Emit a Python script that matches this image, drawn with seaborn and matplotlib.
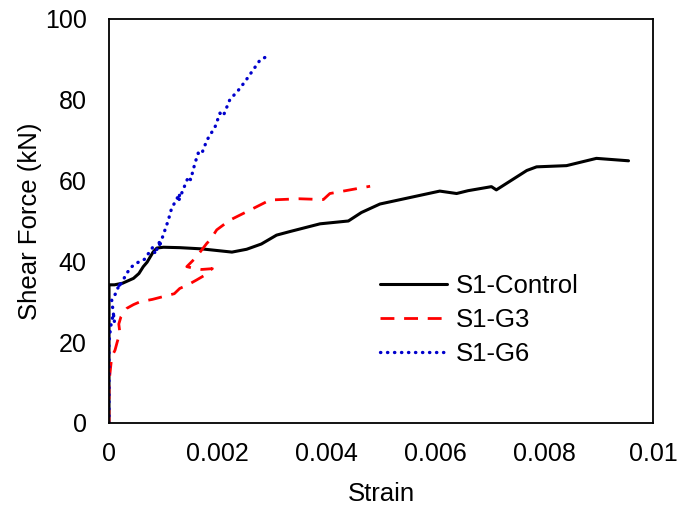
import pandas as pd
import numpy as np
import matplotlib
matplotlib.use('Agg')
import matplotlib.pyplot as plt
import seaborn as sns

# S1-Control (strain, kN)
control_strain = [0, 0, 0.0001, 0.00025, 0.00045, 0.00055, 0.00063, 0.0007, 0.00081, 0.00088,
                  0.001, 0.0013, 0.0017, 0.00226, 0.00253, 0.0028, 0.00308, 0.00333, 0.00388,
                  0.0044, 0.00464, 0.00498, 0.00608, 0.00639, 0.0066, 0.00703, 0.00712,
                  0.00768, 0.00786, 0.00841, 0.00896, 0.00955]
control_force = [0, 34.2, 34.2, 34.6, 35.8, 37.0, 38.7, 39.8, 42.3, 43.3,
                 43.5, 43.4, 43.1, 42.3, 43.0, 44.3, 46.5, 47.4, 49.3,
                 50.0, 52.1, 54.2, 57.4, 56.8, 57.5, 58.5, 57.7,
                 62.5, 63.4, 63.7, 65.5, 64.9]

# S1-G3
g3_strain = [0, 0, 0.00005, 0.00011, 0.00015, 0.0002, 0.00018, 0.00022, 0.00033, 0.00045,
             0.00057, 0.0008, 0.001, 0.0012, 0.0013, 0.00145, 0.00161, 0.00175, 0.00186,
             0.0019, 0.0017, 0.00155, 0.00143, 0.0016, 0.0018, 0.00186, 0.00198, 0.00222,
             0.00271, 0.00296, 0.0035, 0.00394, 0.00406, 0.0048]
g3_force = [0, 10, 16.4, 18, 20, 22.3, 24.5, 26.3, 28.4, 29.3,
            30.0, 30.6, 31.3, 32.0, 33.3, 34.2, 35.4, 36.5, 37.9,
            38.2, 38.0, 38.3, 38.7, 41, 44.5, 45.3, 47.8, 50.2,
            53.5, 55.2, 55.5, 55.3, 56.8, 58.6]

# S1-G6
g6_strain = [0, 0, 0.00003, 0.00008, 0.0001, 0.00005, 0.00012, 0.0002, 0.00018, 0.00033,
             0.0004, 0.00051, 0.00065, 0.00081, 0.00085, 0.00094, 0.00092, 0.00106, 0.00109,
             0.00115, 0.0013, 0.00128, 0.00146, 0.0015, 0.00158, 0.00164, 0.0017, 0.0018,
             0.00195, 0.00204, 0.0021, 0.00222, 0.00238, 0.0025, 0.00265, 0.00278, 0.00287]
g6_force = [0, 20, 23.8, 27.1, 25, 30.4, 32, 34.6, 33.5, 37.1,
            38.5, 39.6, 40.5, 43.6, 41.8, 45.3, 43.5, 49, 50.2,
            53.1, 56.8, 55, 61, 60.2, 64.3, 66.8, 66.5, 70,
            73.3, 76.7, 76, 80, 82.4, 84.5, 87.4, 89.9, 90.5]

sns.set_style('white')
plt.rcParams['font.family'] = ['Liberation Sans', 'DejaVu Sans']
plt.rcParams['text.color'] = 'black'
plt.rcParams['axes.labelcolor'] = 'black'

fig = plt.figure(figsize=(6.8, 5.05), dpi=100)
ax = fig.add_axes([0.1603, 0.1624, 0.80, 0.80])

sns.lineplot(x=control_strain, y=control_force, sort=False, estimator=None, ax=ax,
             color='black', linewidth=2.2, label='S1-Control')
sns.lineplot(x=g3_strain, y=g3_force, sort=False, estimator=None, ax=ax,
             color='#FF0000', linewidth=2.0, linestyle=(0, (5, 3.5)), label='S1-G3')
sns.lineplot(x=g6_strain, y=g6_force, sort=False, estimator=None, ax=ax,
             color='#0000CC', linewidth=2.4, linestyle=(0, (0.1, 2.0)),
             dash_capstyle='round', label='S1-G6')

ax.set_xlim(0, 0.01)
ax.set_ylim(0, 100)
ax.set_xticks([0, 0.002, 0.004, 0.006, 0.008, 0.01])
ax.set_xticklabels(['0', '0.002', '0.004', '0.006', '0.008', '0.01'])
ax.set_yticks([0, 20, 40, 60, 80, 100])
ax.tick_params(axis='both', length=0, labelsize=18, colors='black')
ax.tick_params(axis='x', pad=14)
ax.tick_params(axis='y', pad=16)
ax.set_xlabel('Strain', fontsize=18.5, labelpad=11)
ax.set_ylabel('Shear Force (kN)', fontsize=18.5, labelpad=2)

for s in ax.spines.values():
    s.set_visible(True)
    s.set_color('black')
    s.set_linewidth(1.3)

ax.legend(loc='center left', bbox_to_anchor=(0.498, 0.255), frameon=False,
          fontsize=18.5, handlelength=2.6, handletextpad=0.35, labelspacing=0.4,
          borderaxespad=0, borderpad=0)

plt.savefig('out.png', dpi=100)
